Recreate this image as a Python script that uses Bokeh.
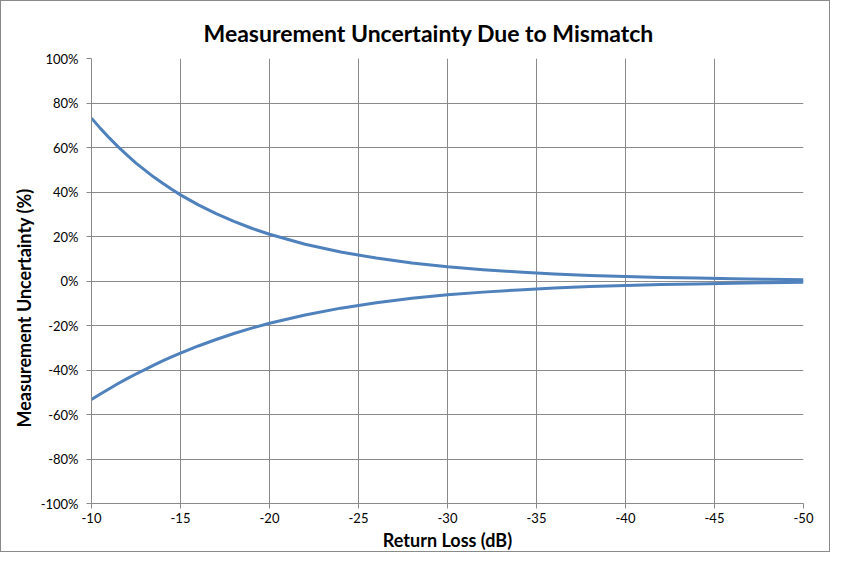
from bokeh.plotting import figure
from bokeh.models import Range1d, FixedTicker, PrintfTickFormatter, Title
from bokeh.embed import file_html
from bokeh.resources import INLINE

# Return loss (dB) and read-off uncertainty values (%)
return_loss = [-10, -10.5, -11, -11.5, -12, -12.5, -13, -13.5, -14, -14.5, -15,
               -16, -17, -18, -19, -20,
               -22, -24, -26, -28, -30, -32, -34, -36, -38, -40,
               -42, -44, -46, -48, -50]
upper_pct = [73.2, 68.6, 64.3, 60.3, 56.6, 53.0, 49.8, 46.7, 43.9, 41.2, 38.7,
             34.2, 30.3, 26.8, 23.7, 21.0,
             16.5, 13.0, 10.3, 8.1, 6.4, 5.1, 4.0, 3.2, 2.5, 2.0,
             1.6, 1.3, 1.0, 0.8, 0.6]
lower_pct = [-53.2, -50.8, -48.4, -46.1, -43.9, -41.8, -39.8, -37.8, -35.9, -34.1, -32.4,
             -29.2, -26.3, -23.6, -21.2, -19.0,
             -15.3, -12.2, -9.8, -7.8, -6.2, -5.0, -4.0, -3.1, -2.5, -2.0,
             -1.6, -1.3, -1.0, -0.8, -0.6]
x_ticks = [-10, -15, -20, -25, -30, -35, -40, -45, -50]
y_ticks = [-100, -80, -60, -40, -20, 0, 20, 40, 60, 80, 100]

FONT = "Lato"
GRID = "#8a8a8a"
LINE = "#4F81BD"

p = figure(width=830, height=552, output_backend="svg", toolbar_location=None,
           x_range=Range1d(-10, -50), y_range=Range1d(-100, 100),
           min_border_left=90, min_border_right=28, min_border_top=57, min_border_bottom=48)

p.title.text = "Measurement Uncertainty Due to Mismatch"
p.title.align = "left"
p.title.offset = 112
p.title.standoff = 24
p.title.text_font = FONT
p.title.text_font_size = "23px"
p.title.text_font_style = "bold"
p.title.text_color = "#000000"

p.outline_line_color = None
p.background_fill_color = "white"
p.border_fill_color = "white"

p.line(return_loss, upper_pct, line_color=LINE, line_width=3, line_join="round")
p.line(return_loss, lower_pct, line_color=LINE, line_width=3, line_join="round")

p.xaxis.ticker = FixedTicker(ticks=x_ticks)
p.yaxis.ticker = FixedTicker(ticks=y_ticks)
p.xaxis.formatter = PrintfTickFormatter(format="%d")
p.yaxis.formatter = PrintfTickFormatter(format="%d%%")

for ax in (p.xaxis, p.yaxis):
    ax.axis_line_color = GRID
    ax.major_tick_line_color = GRID
    ax.major_tick_out = 5
    ax.major_tick_in = 0
    ax.minor_tick_line_color = None
    ax.major_label_text_font = FONT
    ax.major_label_text_font_size = "13px"
    ax.major_label_text_color = "#000000"
    ax.axis_label_text_font = FONT
    ax.axis_label_text_font_size = "18px"
    ax.axis_label_text_font_style = "bold"
    ax.axis_label_text_color = "#000000"

p.xaxis.axis_label = "Return Loss (dB)"
p.xaxis.major_label_standoff = 4
p.yaxis.major_label_standoff = 8
p.xaxis.axis_label_standoff = 3

ylab = Title(text="Measurement Uncertainty (%)", align="left", offset=76,
             text_font=FONT, text_font_size="18px", text_font_style="bold",
             text_color="#000000", standoff=5)
p.add_layout(ylab, "left")

p.xgrid.grid_line_color = GRID
p.ygrid.grid_line_color = GRID
p.xgrid.grid_line_width = 1
p.ygrid.grid_line_width = 1

p.styles = {"border": "1px solid #8a8a8a", "box-sizing": "border-box"}

open("out.html", "w").write(file_html(p, INLINE))
